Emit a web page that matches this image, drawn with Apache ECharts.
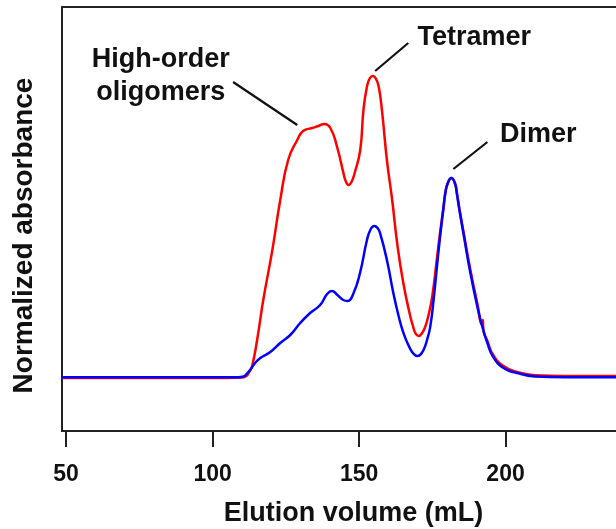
<!DOCTYPE html>
<html><head><meta charset="utf-8">
<script src="https://cdn.jsdelivr.net/npm/echarts@6/dist/echarts.min.js"></script>
<style>html,body{margin:0;padding:0;background:#fff}#c{width:616px;height:529px}</style>
</head><body><div id="c"></div>
<script>
// x tick labels (elution volume, mL)
const xTicks = [50, 100, 150, 200];

// Red trace: [elution volume (mL), normalized absorbance]
const redTrace = [
  [48.6, 0], [105, 0], [110, 0.002], [111.5, 0.01], [112.5, 0.03], [113.5, 0.06],
  [115.2, 0.19], [117.3, 0.39], [120.4, 0.64], [123.1, 0.89], [125.8, 1.09],
  [128.9, 1.19], [130.9, 1.235], [134.0, 1.25], [136.1, 1.26], [138.1, 1.27],
  [140.2, 1.25], [142.5, 1.155], [144.7, 1.023], [145.5, 0.982], [146.4, 0.965],
  [147.4, 0.98], [148.6, 1.03], [150.4, 1.14], [151.5, 1.34], [152.7, 1.457], [153.7, 1.5], [154.75, 1.51],
  [155.8, 1.495], [156.7, 1.457], [157.8, 1.34], [159.5, 1.09],
  [161.3, 0.89], [163.0, 0.675], [165.1, 0.475], [167.5, 0.307], [168.4, 0.26],
  [169.2, 0.225], [170.3, 0.21], [171.4, 0.222], [172.6, 0.257], [173.8, 0.32],
  [175.0, 0.41], [176.6, 0.6], [177.6, 0.72], [178.8, 0.85],
  [179.5, 0.93], [180.3, 0.975], [181.5, 1.0], [182.7, 0.975], [183.4, 0.925], [184.2, 0.85],
  [185.6, 0.735], [188.0, 0.54], [190.4, 0.37],
  [191.9, 0.27], [192.2, 0.29], [192.5, 0.235], [193.8, 0.185], [195.8, 0.115],
  [199.3, 0.06], [204.0, 0.03], [210, 0.014], [220, 0.01], [237.7, 0.01]
];

// Blue trace: [elution volume (mL), normalized absorbance]
const blueTrace = [
  [48.6, 0.004], [109, 0.004], [110.5, 0.008], [111.1, 0.012], [112.8, 0.04],
  [114.5, 0.075], [116.3, 0.1], [119.7, 0.13], [123.1, 0.175], [126.5, 0.215],
  [129.9, 0.275], [133.3, 0.325], [136.7, 0.365], [139.1, 0.42], [140.7, 0.435],
  [142.6, 0.415], [144.6, 0.39], [146.0, 0.385], [148.0, 0.42], [150.4, 0.53],
  [152.7, 0.69], [154.0, 0.745], [155.2, 0.76], [156.3, 0.75], [157.2, 0.723], [159.5, 0.59],
  [161.7, 0.425], [163.5, 0.31], [165.2, 0.223], [167.0, 0.16], [168.1, 0.13], [169.0, 0.116],
  [169.8, 0.11], [170.8, 0.115], [172.0, 0.14], [173.2, 0.19],
  [174.3, 0.257], [175.5, 0.4], [176.6, 0.56], [177.6, 0.7], [178.8, 0.85], [179.5, 0.93], [180.3, 0.975],
  [181.5, 1.0], [182.7, 0.975], [183.4, 0.92], [184.2, 0.845],
  [185.6, 0.725], [188.0, 0.525], [190.4, 0.355], [192.1, 0.255], [193.8, 0.175],
  [195.8, 0.105], [199.3, 0.05], [204.0, 0.025], [210, 0.008], [220, 0.004], [237.7, 0.004]
];

// Annotations: label text, label anchor and leader line (data coordinates)
const annLabels = ['High-order\noligomers', 'Tetramer', 'Dimer'];
const annText = [[82.3, 1.5075], [189.3, 1.70], [211.2, 1.215]];
const annLineFrom = [[107.0, 1.48], [166.8, 1.675], [193.8, 1.18]];
const annLineTo = [[128.9, 1.265], [155.5, 1.535], [182.2, 1.045]];

const FONT = '"Liberation Sans", Arial, sans-serif';
const AX = '#222';

const chart = echarts.init(document.getElementById('c'), null, {renderer: 'canvas'});
chart.setOption({
  animation: false,
  backgroundColor: '#fff',
  grid: {left: 62, right: 0, top: 7, bottom: 98},
  xAxis: [{
    type: 'value', min: 48.6, max: 237.7,
    axisLine: {show: true, onZero: false, lineStyle: {color: AX, width: 2}},
    axisTick: {show: true, customValues: xTicks, length: 16, lineStyle: {color: AX, width: 2}},
    axisLabel: {show: true, customValues: xTicks, margin: 32, fontSize: 23, fontWeight: 'bold', color: '#111', fontFamily: FONT},
    splitLine: {show: false}
  }, {
    type: 'value', position: 'top', min: 48.6, max: 237.7,
    axisLine: {show: true, onZero: false, lineStyle: {color: AX, width: 2}},
    axisTick: {show: false}, axisLabel: {show: false}, splitLine: {show: false}
  }],
  yAxis: {
    type: 'value', min: -0.265, max: 1.855,
    axisLine: {show: true, onZero: false, lineStyle: {color: AX, width: 2}},
    axisTick: {show: false}, axisLabel: {show: false}, splitLine: {show: false}
  },
  series: [{
    type: 'line', data: redTrace, showSymbol: false, smooth: 0.5,
    lineStyle: {color: '#ff0000', width: 2.5}, z: 2
  }, {
    type: 'line', data: blueTrace, showSymbol: false, smooth: 0.5,
    lineStyle: {color: '#0000ff', width: 2.5}, z: 3
  }]
});

const g = [];
for (let i = 0; i < annLabels.length; i++) {
  const p = chart.convertToPixel({gridIndex: 0}, annText[i]);
  const a = chart.convertToPixel({gridIndex: 0}, annLineFrom[i]);
  const b = chart.convertToPixel({gridIndex: 0}, annLineTo[i]);
  g.push({type: 'text', x: p[0], y: p[1], z: 10, style: {text: annLabels[i], align: 'center', verticalAlign: 'middle',
    font: 'bold 27px ' + FONT, lineHeight: 33, fill: '#111'}});
  g.push({type: 'line', z: 10, shape: {x1: a[0], y1: a[1], x2: b[0], y2: b[1]}, style: {stroke: '#111', lineWidth: 2.2}});
}
g.push({type: 'text', x: 353.5, y: 514, style: {text: 'Elution volume (mL)', align: 'center', verticalAlign: 'middle', font: 'bold 27px ' + FONT, fill: '#111'}});
g.push({type: 'text', x: 24, y: 235.5, rotation: Math.PI / 2, style: {text: 'Normalized absorbance', align: 'center', verticalAlign: 'middle', font: 'bold 28px ' + FONT, fill: '#111'}});
chart.setOption({graphic: g});
</script>
</body></html>
